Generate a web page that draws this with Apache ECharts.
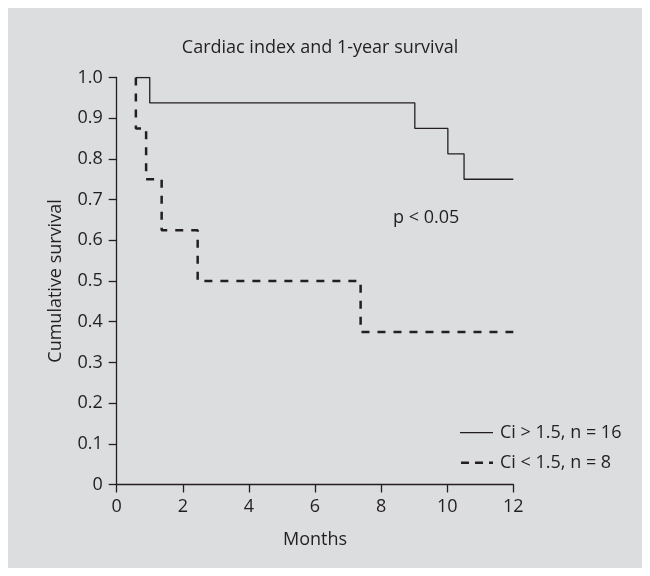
<!DOCTYPE html>
<html>
<head>
<meta charset="utf-8">
<script src="https://cdn.jsdelivr.net/npm/echarts@6/dist/echarts.min.js"></script>
<style>
  html, body { margin: 0; padding: 0; background: #ffffff; }
  #chart { width: 650px; height: 576px; }
</style>
</head>
<body>
<div id="chart"></div>
<script>
// Kaplan-Meier estimates: follow-up time in months and cumulative survival
const highCiMonths   = [0.58, 1.0, 9.02, 10.02, 10.51, 12];
const highCiSurvival = [1.0, 0.9375, 0.875, 0.8125, 0.75, 0.75];

const lowCiMonths   = [0.58, 0.58, 0.89, 1.36, 2.45, 7.38, 12];
const lowCiSurvival = [1.0, 0.875, 0.75, 0.625, 0.5, 0.375, 0.375];

const seriesNames = ['Ci > 1.5, n = 16', 'Ci < 1.5, n = 8'];
const xTicks = [0, 2, 4, 6, 8, 10, 12];
const yTicks = [0, 0.1, 0.2, 0.3, 0.4, 0.5, 0.6, 0.7, 0.8, 0.9, 1.0];

const INK = '#231f20';
const FONT = '"Open Sans", "Noto Sans", sans-serif';
const FS = 18;

const solidStyle = { color: INK, width: 1.3, type: 'solid' };
const dashStyle = { color: INK, width: 2.5, type: [8, 8] };

function pairs(xs, ys) {
  return xs.map((x, i) => [x, ys[i]]);
}

// Key drawn as plain shapes so the dash phase of the sample can be set
function keyEntry(y, label, dashed) {
  return [
    {
      type: 'line',
      silent: true,
      shape: { x1: 460, y1: y, x2: 493, y2: y },
      style: dashed
        ? { stroke: INK, lineWidth: 2.5, lineDash: [8, 6], lineDashOffset: 13 }
        : { stroke: INK, lineWidth: 1.3 }
    },
    {
      type: 'text',
      x: 500,
      y: y,
      style: { text: label, fill: INK, font: FS + 'px ' + FONT, verticalAlign: 'middle', align: 'left' }
    }
  ];
}

const chart = echarts.init(document.getElementById('chart'), null, { renderer: 'canvas' });

chart.setOption({
  backgroundColor: '#ffffff',
  animation: false,
  textStyle: { fontFamily: FONT, color: INK },
  graphic: [
    {
      type: 'rect',
      z: -10,
      silent: true,
      shape: { x: 8, y: 8, width: 634, height: 560 },
      style: { fill: '#dcdddf' }
    },
    {
      type: 'text',
      x: 393,
      y: 218,
      style: { text: 'p < 0.05', fill: INK, font: FS + 'px ' + FONT, verticalAlign: 'middle', align: 'left' }
    }
  ].concat(keyEntry(432.7, seriesNames[0], false), keyEntry(462.7, seriesNames[1], true)),
  title: {
    text: 'Cardiac index and 1-year survival',
    left: 315,
    textAlign: 'center',
    top: 34,
    textStyle: { fontFamily: FONT, fontSize: FS, fontWeight: 'normal', color: INK }
  },
  grid: { left: 116.7, right: 136.7, top: 77.5, bottom: 91.5, containLabel: false },
  xAxis: {
    type: 'value',
    min: xTicks[0],
    max: xTicks[xTicks.length - 1],
    interval: 2,
    name: 'Months',
    nameLocation: 'middle',
    nameGap: 46,
    nameTextStyle: { fontFamily: FONT, fontSize: FS, color: INK },
    axisLine: { show: true, onZero: false, lineStyle: { color: INK, width: 1.3 } },
    axisTick: { show: true, inside: false, length: 8, lineStyle: { color: INK, width: 1.3 } },
    axisLabel: { margin: 13, fontFamily: FONT, fontSize: FS, color: INK },
    splitLine: { show: false }
  },
  yAxis: {
    type: 'value',
    min: yTicks[0],
    max: yTicks[yTicks.length - 1],
    interval: 0.1,
    name: 'Cumulative survival',
    nameLocation: 'middle',
    nameGap: 52,
    nameTextStyle: { fontFamily: FONT, fontSize: FS, color: INK },
    axisLine: { show: true, onZero: false, lineStyle: { color: INK, width: 1.3 } },
    axisTick: { show: true, inside: false, length: 8, lineStyle: { color: INK, width: 1.3 } },
    axisLabel: {
      margin: 14,
      fontFamily: FONT,
      fontSize: FS,
      color: INK,
      formatter: v => (Math.abs(v) < 1e-9 ? '0' : v.toFixed(1))
    },
    splitLine: { show: false }
  },
  series: [
    {
      name: seriesNames[0],
      type: 'line',
      step: 'end',
      showSymbol: false,
      symbol: 'none',
      data: pairs(highCiMonths, highCiSurvival),
      lineStyle: solidStyle,
      itemStyle: { color: INK }
    },
    {
      name: seriesNames[1],
      type: 'line',
      step: 'end',
      showSymbol: false,
      symbol: 'none',
      data: pairs(lowCiMonths, lowCiSurvival),
      lineStyle: dashStyle,
      itemStyle: { color: INK }
    }
  ]
});
</script>
</body>
</html>
